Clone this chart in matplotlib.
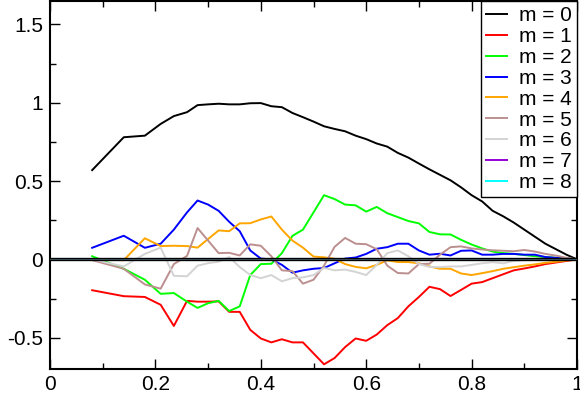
import matplotlib
matplotlib.use("Agg")
import matplotlib.pyplot as plt
from matplotlib.ticker import MultipleLocator, FuncFormatter

x = [0.08, 0.14, 0.18, 0.21, 0.235, 0.26, 0.28, 0.30, 0.32, 0.34, 0.36, 0.38,
     0.40, 0.42, 0.44, 0.46, 0.48, 0.50, 0.52, 0.54, 0.56, 0.58, 0.60, 0.62,
     0.64, 0.66, 0.68, 0.70, 0.72, 0.74, 0.76, 0.78, 0.80, 0.82, 0.84, 0.86,
     0.88, 0.90, 0.92, 0.94, 0.96, 0.98, 1.00]

m0 = [0.57, 0.78, 0.79, 0.865, 0.915, 0.94, 0.985, 0.99, 0.994, 0.99, 0.99, 0.997,
      0.998, 0.978, 0.972, 0.935, 0.908, 0.88, 0.85, 0.833, 0.818, 0.79, 0.768, 0.74,
      0.72, 0.68, 0.65, 0.612, 0.575, 0.54, 0.505, 0.46, 0.41, 0.37, 0.31, 0.275,
      0.235, 0.19, 0.145, 0.10, 0.065, 0.03, 0.0]
m1 = [-0.197, -0.235, -0.24, -0.29, -0.425, -0.265, -0.27, -0.27, -0.268, -0.335, -0.335, -0.45,
      -0.505, -0.53, -0.51, -0.53, -0.53, -0.60, -0.67, -0.63, -0.56, -0.505, -0.52, -0.48,
      -0.42, -0.375, -0.30, -0.24, -0.175, -0.19, -0.234, -0.195, -0.155, -0.145, -0.12, -0.095,
      -0.07, -0.058, -0.045, -0.03, -0.02, -0.01, 0.0]
m2 = [0.02, -0.06, -0.13, -0.22, -0.215, -0.27, -0.31, -0.28, -0.265, -0.33, -0.30, -0.10,
      -0.03, -0.028, 0.04, 0.15, 0.19, 0.30, 0.41, 0.385, 0.35, 0.345, 0.305, 0.335,
      0.295, 0.27, 0.245, 0.23, 0.175, 0.16, 0.159, 0.125, 0.095, 0.07, 0.05, 0.04,
      0.035, 0.028, 0.02, 0.015, 0.01, 0.005, 0.0]
m3 = [0.074, 0.151, 0.074, 0.10, 0.19, 0.30, 0.376, 0.35, 0.31, 0.24, 0.18, 0.057,
      0.005, 0.0, -0.035, -0.085, -0.07, -0.06, -0.055, -0.025, 0.005, 0.012, 0.035, 0.068,
      0.078, 0.10, 0.10, 0.057, 0.03, 0.036, 0.025, 0.055, 0.057, 0.03, 0.03, 0.035,
      0.035, 0.03, 0.03, 0.015, 0.01, 0.005, 0.0]
m4 = [0.0, -0.005, 0.135, 0.085, 0.087, 0.085, 0.075, 0.13, 0.185, 0.18, 0.23, 0.231,
      0.255, 0.274, 0.19, 0.12, 0.075, 0.018, 0.013, 0.004, -0.03, -0.048, -0.057, -0.035,
      -0.006, -0.017, -0.017, -0.025, -0.045, -0.06, -0.06, -0.09, -0.10, -0.088, -0.075, -0.06,
      -0.05, -0.04, -0.032, -0.022, -0.015, -0.007, 0.0]
m5 = [-0.005, -0.06, -0.16, -0.187, -0.03, 0.022, 0.20, 0.12, 0.04, 0.042, 0.025, 0.096,
      0.087, 0.02, -0.07, -0.075, -0.155, -0.13, -0.04, 0.08, 0.137, 0.10, 0.097, 0.065,
      -0.04, -0.087, -0.09, -0.03, -0.028, 0.03, 0.078, 0.083, 0.07, 0.063, 0.058, 0.055,
      0.052, 0.06, 0.05, 0.035, 0.024, 0.01, 0.0]
m6 = [0.0, -0.045, 0.035, 0.075, -0.105, -0.108, -0.04, -0.024, -0.015, 0.015, -0.049, -0.10,
      -0.12, -0.10, -0.14, -0.12, -0.115, -0.10, -0.055, -0.07, -0.065, -0.08, -0.10, -0.035,
      0.04, 0.057, 0.02, -0.03, -0.048, -0.05, -0.045, -0.045, -0.035, -0.025, -0.018, -0.025,
      -0.01, -0.005, -0.003, -0.002, -0.001, 0.0, 0.0]
m7 = [0.0] * len(x)
m8 = [0.0] * len(x)

labels = ["m = 0", "m = 1", "m = 2", "m = 3", "m = 4", "m = 5", "m = 6", "m = 7", "m = 8"]
colors = ["#000000", "#ff0000", "#00ff00", "#0000ff", "#ffa500", "#bc8f8f",
          "#d3d3d3", "#9400d3", "#00ffff"]
series = [m0, m1, m2, m3, m4, m5, m6, m7, m8]

plt.rcParams['font.family'] = ['Liberation Sans', 'DejaVu Sans']

fig = plt.figure(figsize=(5.8, 4.01), dpi=100)
ax = fig.add_axes([50 / 580, 1 - 369 / 401, 527 / 580, 368 / 401])

for ys, c, lab in zip(series, colors, labels):
    ax.plot(x, ys, color=c, lw=1.4, label=lab, zorder=2)

ax.axhline(0, color="black", lw=2.4, zorder=3)
ax.axhline(0, color="#4f7080", lw=0.5, zorder=4)

ax.set_xlim(0, 1)
ax.set_ylim(-0.7, 1.65)
ax.xaxis.set_major_locator(MultipleLocator(0.2))
ax.xaxis.set_minor_locator(MultipleLocator(0.1))
ax.yaxis.set_major_locator(MultipleLocator(0.5))
ax.yaxis.set_minor_locator(MultipleLocator(0.25))
fmt = FuncFormatter(lambda v, p: "%g" % round(v, 6))
ax.xaxis.set_major_formatter(fmt)
ax.yaxis.set_major_formatter(fmt)
ax.tick_params(which="both", direction="in", top=True, right=True, labelsize=15, width=1)
ax.tick_params(which="major", length=7.5)
ax.tick_params(which="minor", length=4)
ax.tick_params(axis="x", pad=4)
ax.tick_params(axis="y", pad=5)
for s in ax.spines.values():
    s.set_linewidth(1.5)

leg = ax.legend(loc="upper right", fontsize=15, frameon=True, fancybox=False,
                edgecolor="black", framealpha=1, borderaxespad=0, labelspacing=0.09,
                handlelength=1.0, handletextpad=0.58, borderpad=0.25)
leg.get_frame().set_linewidth(1.0)

fig.savefig("out.png", dpi=100)
